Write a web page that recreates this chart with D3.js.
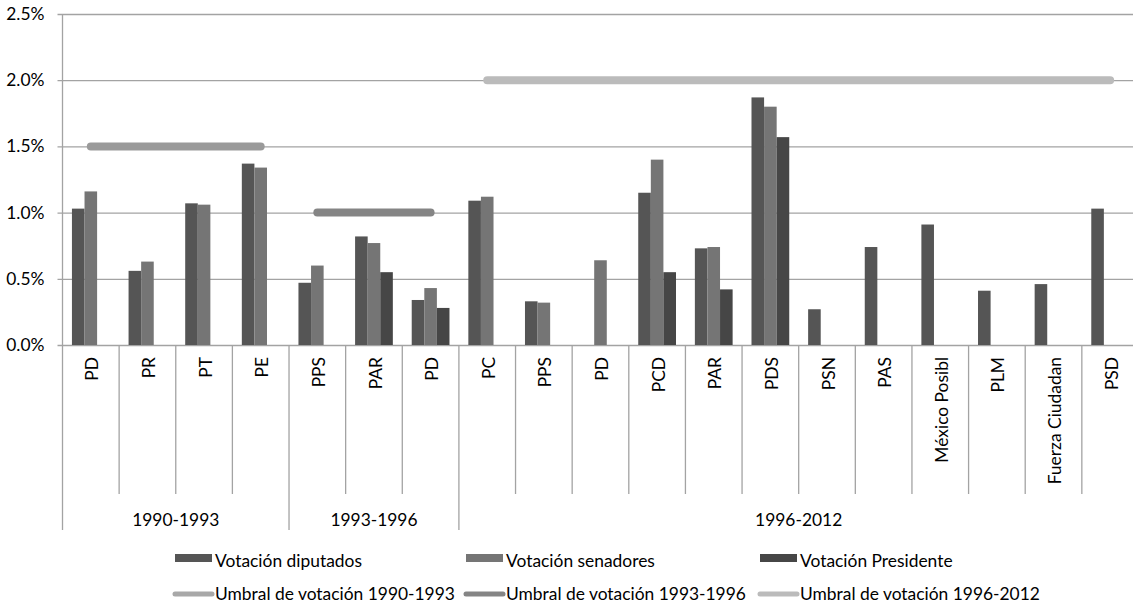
<!DOCTYPE html>
<html><head><meta charset="utf-8">
<script src="https://cdn.jsdelivr.net/npm/d3@7"></script>
<style>
html,body{margin:0;padding:0;background:#fff;}
svg{display:block;}
text{font-family:Lato,"Open Sans",sans-serif;font-size:17.4px;fill:#000;}
</style></head>
<body>
<svg id="chart" width="1133" height="607"></svg>
<script>
// ---- data ----
const categories = ["PD","PR","PT","PE","PPS","PAR","PD","PC","PPS","PD","PCD","PAR","PDS","PSN","PAS","México Posibl","PLM","Fuerza Ciudadan","PSD"];
const groupNames = ["1990-1993","1993-1996","1996-2012"];
const groupSizes = [4, 3, 12];
const thresholds = [1.5, 1.0, 2.0];
const diputados  = [1.03,0.56,1.07,1.37, 0.47,0.82,0.34, 1.09,0.33,null,1.15,0.73,1.87,0.27,0.74,0.91,0.41,0.46,1.03];
const senadores  = [1.16,0.63,1.06,1.34, 0.60,0.77,0.43, 1.12,0.32,0.64,1.40,0.74,1.80,null,null,null,null,null,null];
const presidente = [null,null,null,null, null,0.55,0.28, null,null,null,0.55,0.42,1.57,null,null,null,null,null,null];
const seriesNames = ["Votación diputados","Votación senadores","Votación Presidente"];
const lineNames = ["Umbral de votación 1990-1993","Umbral de votación 1993-1996","Umbral de votación 1996-2012"];
const yTicks = [0, 0.5, 1.0, 1.5, 2.0, 2.5];

(function () {
// ---- styles ----
const barColors = ["#555555","#757575","#464646"];
const lineColors = ["#9a9a9a","#858585","#bbbbbb"];
const legendLineColors = ["#a8a8a8","#858585","#bbbbbb"];
const gridColor = "#a3a3a3";
const fs = "17.4px";

const svg = d3.select("#chart");
const mLeft = 62.5, mTop = 14, mBottom = 345, mRight = 62.5 + 19*56.63;

const x0 = d3.scaleBand().domain(d3.range(categories.length)).range([mLeft, mRight]).paddingInner(0).paddingOuter(0);
const x1 = d3.scaleBand().domain([0,1,2]).range([0, x0.bandwidth()]).paddingInner(0).paddingOuter(0.75);
const y = d3.scaleLinear().domain([0, 2.5]).range([mBottom, mTop]);

// gridlines + y axis
const yAxis = d3.axisLeft(y).tickValues(yTicks).tickSize(-(mRight-mLeft)).tickSizeOuter(0).tickPadding(18)
  .tickFormat(d => d.toFixed(1) + "%");
const gy = svg.append("g").attr("transform", `translate(${mLeft},0)`).call(yAxis);
gy.select(".domain").remove();
gy.selectAll(".tick line").attr("stroke", gridColor).attr("stroke-width", 1.3).attr("x1", -5);
gy.selectAll(".tick text").attr("font-size", fs).attr("font-family", "Lato").attr("fill", "#000");

// left vertical axis line (plot + category area)
svg.append("line").attr("x1", mLeft).attr("x2", mLeft).attr("y1", mTop).attr("y2", 530)
  .attr("stroke", gridColor).attr("stroke-width", 1.3);

// category separators
const groupStarts = [];
let acc = 0;
groupSizes.forEach(s => { groupStarts.push(acc); acc += s; });
for (let i = 1; i <= categories.length; i++) {
  const xb = mLeft + i * x0.step();
  const isGroup = groupStarts.includes(i) || i === categories.length;
  svg.append("line").attr("x1", xb).attr("x2", xb).attr("y1", mBottom).attr("y2", isGroup ? 530 : 494)
    .attr("stroke", gridColor).attr("stroke-width", 1.3);
}

// bars
const series = [diputados, senadores, presidente];
series.forEach((vals, j) => {
  svg.append("g").selectAll("rect").data(vals.map((v, i) => ({v, i})).filter(d => d.v != null))
    .join("rect")
    .attr("x", d => x0(d.i) + x1(j))
    .attr("width", x1.bandwidth())
    .attr("y", d => y(d.v))
    .attr("height", d => y(0) - y(d.v))
    .attr("fill", barColors[j]);
});

// threshold lines
const line = d3.line().x(d => x0(d.i) + x0.bandwidth()/2).y(d => y(d.v));
groupSizes.forEach((s, g) => {
  const pts = d3.range(groupStarts[g], groupStarts[g] + s).map(i => ({i, v: thresholds[g]}));
  svg.append("path").attr("d", line(pts)).attr("fill", "none")
    .attr("stroke", lineColors[g]).attr("stroke-width", 8)
    .attr("stroke-linecap", "round").attr("stroke-linejoin", "round");
});

// category labels (rotated)
svg.append("g").selectAll("text").data(categories).join("text")
  .attr("transform", (d, i) => `translate(${x0(i) + x0.bandwidth()/2 + 1.5},357) rotate(-90)`)
  .attr("dy", "0.35em")
  .attr("text-anchor", "end")
  .text(d => d);

// group labels
groupNames.forEach((n, g) => {
  const a = mLeft + groupStarts[g] * x0.step();
  const b = mLeft + (groupStarts[g] + groupSizes[g]) * x0.step();
  svg.append("text").attr("x", (a + b) / 2).attr("y", 526).attr("text-anchor", "middle").text(n);
});

// legend
const cols = [172, 463, 757];
seriesNames.forEach((n, j) => {
  svg.append("rect").attr("x", cols[j] + 3).attr("y", 554).attr("width", 37).attr("height", 8).attr("fill", barColors[j]);
  svg.append("text").attr("x", cols[j] + 43).attr("y", 567).text(n);
});
lineNames.forEach((n, j) => {
  svg.append("line").attr("x1", cols[j] + 3).attr("x2", cols[j] + 40).attr("y1", 594).attr("y2", 594)
    .attr("stroke", legendLineColors[j]).attr("stroke-width", 5).attr("stroke-linecap", "round");
  svg.append("text").attr("x", cols[j] + 43).attr("y", 600).text(n);
});
})();
</script>
</body></html>
